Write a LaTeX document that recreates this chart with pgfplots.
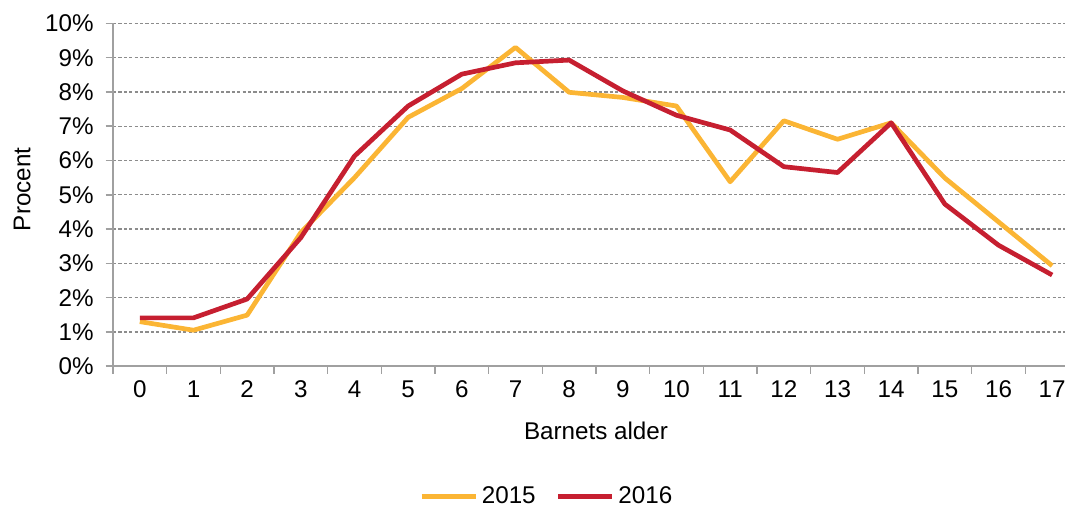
\documentclass[border=0pt]{standalone}
\usepackage{pgfplots}
\pgfplotsset{compat=1.18}
\usepackage{fontspec}
\setmainfont{Liberation Sans}
\definecolor{c2015}{RGB}{251,181,52}
\definecolor{c2016}{RGB}{198,31,48}
\definecolor{axgray}{RGB}{160,160,160}
\definecolor{gridgray}{RGB}{140,140,140}
\begin{document}
\begin{tikzpicture}
\begin{axis}[
  scale only axis, width=483pt, height=171.4pt,
  xmin=-0.5, xmax=17.5, ymin=0, ymax=10,
  axis x line*=bottom, axis y line*=left,
  axis line style={axgray, line width=0.8pt, -},
  xtick={-0.5,0.5,...,17.5}, x tick label as interval,
  xticklabels={0,1,2,3,4,5,6,7,8,9,10,11,12,13,14,15,16,17},
  ytick={0,1,...,10},
  yticklabel={\pgfmathprintnumber[assume math mode=true]{\tick}\%},
  tick align=outside, major tick length=3.7pt,
  tick style={axgray, line width=0.8pt},
  ymajorgrids, grid style={gridgray, line width=0.6pt, dash pattern=on 1.6pt off 1.1pt},
  tick label style={font=\fontsize{12.1}{14}\selectfont, black},
  yticklabel style={xshift=-2.5pt},
  label style={font=\fontsize{12.1}{14}\selectfont, black},
  xlabel={Barnets alder}, ylabel={Procent},
  xlabel style={at={(axis description cs:0.5,-0.19)}, anchor=center},
  ylabel style={at={(axis description cs:-0.094,0.516)}, anchor=center},
  legend style={draw=none, fill=none, font=\fontsize{12.1}{14}\selectfont,
    at={(0.450,-0.380)}, anchor=center, legend columns=2,
    /tikz/every even column/.append style={column sep=8pt}},
  legend image code/.code={\draw[#1] (0pt,0pt) -- (27pt,0pt);},
  every axis plot/.append style={line width=2.35pt, line join=round, mark=none},
]
\addplot[c2015] coordinates {
(0,1.30) (1,1.05) (2,1.49) (3,3.90) (4,5.50) (5,7.26) (6,8.10) (7,9.30) (8,7.99)
(9,7.84) (10,7.59) (11,5.38) (12,7.16) (13,6.62) (14,7.10) (15,5.49) (16,4.21) (17,2.93)};
\addlegendentry{2015}
\addplot[c2016] coordinates {
(0,1.41) (1,1.41) (2,1.96) (3,3.75) (4,6.13) (5,7.59) (6,8.52) (7,8.85) (8,8.93)
(9,8.03) (10,7.32) (11,6.89) (12,5.82) (13,5.65) (14,7.10) (15,4.73) (16,3.53) (17,2.66)};
\addlegendentry{2016}
\coordinate (BL) at (rel axis cs:0,0);
\coordinate (TR) at (rel axis cs:1,1);
\end{axis}
\pgfresetboundingbox
\path ([xshift=-56.5pt,yshift=-71.5pt]BL) rectangle ([xshift=-7pt,yshift=11.7pt]TR);
\end{tikzpicture}
\end{document}
